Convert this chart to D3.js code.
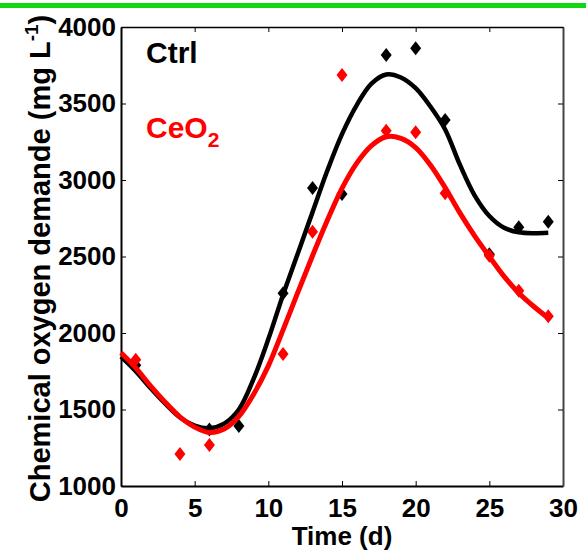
<!DOCTYPE html>
<html>
<head>
<meta charset="utf-8">
<script src="https://cdn.jsdelivr.net/npm/d3@7"></script>
<style>
  body { margin: 0; background: #fff; }
  svg { display: block; font-family: "Liberation Sans", Arial, sans-serif; font-weight: bold; }
</style>
</head>
<body>
<div id="chart"></div>
<script>
const w = 586;
const h = 555;

// measured points (day, COD)
const ctrlDays = [1, 6, 8, 11, 13, 15, 18, 20, 22, 25, 27, 29];
const ctrlCOD  = [1790, 1370, 1392, 2260, 2948, 2908, 3817, 3861, 3392, 2515, 2691, 2727];
const ceDays   = [1, 4, 6, 11, 13, 15, 18, 20, 22, 25, 27, 29];
const ceCOD    = [1825, 1209, 1268, 1862, 2662, 3686, 3322, 3312, 2913, 2505, 2276, 2110];

// fitted curves, one value per day 0..29
const fitDays = d3.range(0, 30);
const ctrlFit = [1845, 1750, 1640, 1538, 1448, 1395, 1378, 1408, 1500, 1700, 1960, 2250, 2520, 2790, 3060,
                 3300, 3490, 3630, 3690, 3670, 3600, 3480, 3330, 3100, 2900, 2765, 2688, 2658, 2652, 2655];
const ceFit   = [1871, 1772, 1655, 1548, 1452, 1385, 1350, 1372, 1455, 1600, 1785, 2020, 2265, 2505, 2735,
                 2945, 3110, 3225, 3283, 3272, 3212, 3098, 2950, 2785, 2635, 2500, 2370, 2262, 2175, 2098];

const xTicks = [0, 5, 10, 15, 20, 25, 30];
const yTicks = [1000, 1500, 2000, 2500, 3000, 3500, 4000];

const margin = {left: 121, right: 23, top: 27, bottom: 69};

const svg = d3.select("#chart").append("svg")
  .attr("width", w)
  .attr("height", h);

// green strip along the top
svg.append("rect")
  .attr("x", 0).attr("y", 3)
  .attr("width", w).attr("height", 5)
  .attr("fill", "#12d612");

const x = d3.scaleLinear().domain([0, 30]).range([margin.left, w - margin.right]);
const y = d3.scaleLinear().domain([1000, 4000]).range([h - margin.bottom, margin.top]);

// axes
const fmt = d3.format("d");
const gx = svg.append("g")
  .attr("transform", `translate(0,${y(1000)})`)
  .call(d3.axisBottom(x).tickValues(xTicks).tickFormat(fmt).tickSize(-5).tickSizeOuter(0).tickPadding(13));
const gy = svg.append("g")
  .attr("transform", `translate(${x(0)},0)`)
  .call(d3.axisLeft(y).tickValues(yTicks).tickFormat(fmt).tickSize(-5).tickSizeOuter(0).tickPadding(5));
const gt = svg.append("g")
  .attr("transform", `translate(0,${y(4000)})`)
  .call(d3.axisTop(x).tickValues(xTicks).tickSize(-5).tickSizeOuter(0).tickFormat(""));
const gr = svg.append("g")
  .attr("transform", `translate(${x(30)},0)`)
  .call(d3.axisRight(y).tickValues(yTicks).tickSize(-5).tickSizeOuter(0).tickFormat(""));

[gx, gy, gt, gr].forEach(g => {
  g.selectAll("text").attr("font-size", 26).attr("font-family", null).attr("fill", "#000");
  g.selectAll(".tick line").attr("stroke", "#000").attr("stroke-width", 1);
});
gx.select(".domain").attr("stroke-width", 2);
gy.select(".domain").attr("stroke-width", 2);
gt.select(".domain").attr("stroke-width", 1.5);
gr.select(".domain").attr("stroke", "#444").attr("stroke-width", 2);

// axis titles
svg.append("text")
  .attr("x", x(15))
  .attr("y", 545)
  .attr("text-anchor", "middle")
  .attr("font-size", 26)
  .text("Time (d)");

const yl = svg.append("text")
  .attr("transform", `translate(50,${(y(1000) + y(4000)) / 2 + 2}) rotate(-90)`)
  .attr("text-anchor", "middle")
  .attr("font-size", 29);
yl.append("tspan").text("Chemical oxygen demande (mg L");
yl.append("tspan").attr("font-size", 19).attr("dy", -12).text("-1");
yl.append("tspan").attr("dy", 12).text(")");

// markers
const diamond = "M0,-7L5.5,0L0,7L-5.5,0Z";

svg.append("g").selectAll("path")
  .data(ctrlDays.map((d, i) => [d, ctrlCOD[i]]))
  .join("path")
  .attr("d", diamond)
  .attr("transform", d => `translate(${x(d[0])},${y(d[1])})`)
  .attr("fill", "#000");

svg.append("g").selectAll("path")
  .data(ceDays.map((d, i) => [d, ceCOD[i]]))
  .join("path")
  .attr("d", diamond)
  .attr("transform", d => `translate(${x(d[0])},${y(d[1])})`)
  .attr("fill", "#ff0000");

// fitted curves
const line = d3.line()
  .x(d => x(d[0]))
  .y(d => y(d[1]))
  .curve(d3.curveCatmullRom.alpha(0.5));

svg.append("path")
  .datum(fitDays.map((d, i) => [d, ctrlFit[i]]))
  .attr("d", line)
  .attr("fill", "none")
  .attr("stroke", "#000")
  .attr("stroke-width", 4.5);

svg.append("path")
  .datum(fitDays.map((d, i) => [d, ceFit[i]]))
  .attr("d", line)
  .attr("fill", "none")
  .attr("stroke", "#ff0000")
  .attr("stroke-width", 5);

// legend labels
svg.append("text")
  .attr("x", 146).attr("y", 63)
  .attr("font-size", 30)
  .attr("fill", "#000")
  .text("Ctrl");

const ce = svg.append("text")
  .attr("x", 146).attr("y", 138)
  .attr("font-size", 30)
  .attr("fill", "#ff0000");
ce.append("tspan").text("CeO");
ce.append("tspan").attr("font-size", 21).attr("dy", 9).text("2");
</script>
</body>
</html>
